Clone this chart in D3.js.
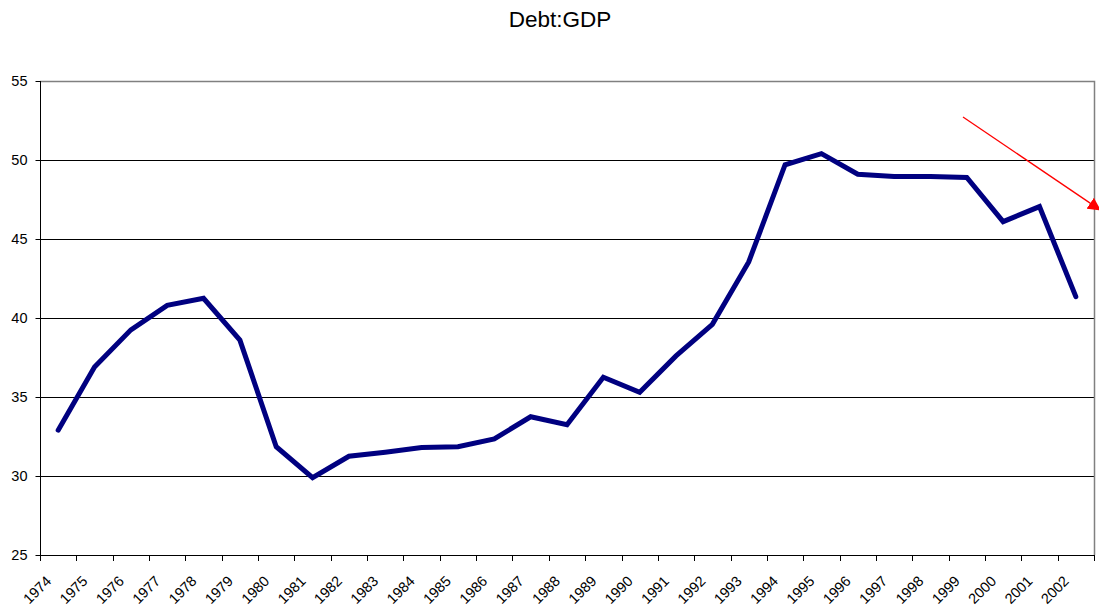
<!DOCTYPE html>
<html>
<head>
<meta charset="utf-8">
<script src="https://cdn.jsdelivr.net/npm/d3@7"></script>
<style>
  html, body { margin: 0; padding: 0; background: #fff; }
  svg { display: block; font-family: "Liberation Sans", Arial, sans-serif; }
</style>
</head>
<body>
<svg id="chart" width="1099" height="610"></svg>
<script>
const years = ["1974","1975","1976","1977","1978","1979","1980","1981","1982","1983","1984","1985","1986","1987","1988","1989","1990","1991","1992","1993","1994","1995","1996","1997","1998","1999","2000","2001","2002"];
const debtGdp = [32.9,36.9,39.25,40.8,41.25,38.6,31.85,29.9,31.25,31.5,31.8,31.85,32.35,33.75,33.25,36.25,35.3,37.6,39.6,43.55,49.7,50.4,49.1,48.95,48.95,48.9,46.1,47.05,41.35];
const yTicks = [25,30,35,40,45,50,55];
const title = "Debt:GDP";

(function () {
const svg = d3.select("#chart");
const pLeft = 40, pRight = 1094, pTop = 81, pBottom = 555;

const x = d3.scaleBand().domain(years).range([pLeft, pRight]).paddingInner(0).paddingOuter(0);
const y = d3.scaleLinear().domain([25, 55]).range([pBottom, pTop]);

// title
svg.append("text")
  .attr("x", 560).attr("y", 27)
  .attr("text-anchor", "middle")
  .attr("font-size", 22.5)
  .attr("fill", "#000")
  .text(title);

// gridlines
svg.append("g").selectAll("line")
  .data(yTicks.filter(d => d > 25 && d < 55))
  .join("line")
  .attr("x1", pLeft).attr("x2", pRight)
  .attr("y1", d => Math.round(y(d)) + 0.5).attr("y2", d => Math.round(y(d)) + 0.5)
  .attr("stroke", "#000").attr("stroke-width", 1);

// plot border (top & right gray)
svg.append("path")
  .attr("d", `M${pLeft},${pTop + 0.5}H${pRight + 0.5}V${pBottom}`)
  .attr("fill", "none").attr("stroke", "#808080").attr("stroke-width", 1.5);

// y axis
const yAxis = d3.axisLeft(y).tickValues(yTicks).tickSize(5).tickPadding(8).tickFormat(d3.format("d"));
const gy = svg.append("g").attr("transform", `translate(${pLeft + 0.5},0)`).call(yAxis);
gy.select(".domain").attr("stroke", "#000").attr("d", `M0,${pTop}V${pBottom + 0.5}`);
gy.selectAll(".tick line").attr("stroke", "#000");
gy.selectAll("text").attr("font-size", 14.5).attr("fill", "#000").style("font-family", "Liberation Sans, Arial, sans-serif");

// x axis: ticks at band boundaries
const boundaries = years.map(d => x(d)).concat([pRight]);
const gx = svg.append("g");
gx.append("line")
  .attr("x1", pLeft).attr("x2", pRight + 0.5)
  .attr("y1", pBottom + 0.5).attr("y2", pBottom + 0.5)
  .attr("stroke", "#000").attr("stroke-width", 1);
gx.selectAll("line.tick")
  .data(boundaries)
  .join("line").attr("class", "tick")
  .attr("x1", d => Math.round(d) + 0.5).attr("x2", d => Math.round(d) + 0.5)
  .attr("y1", pBottom).attr("y2", pBottom + 6)
  .attr("stroke", "#000");
gx.selectAll("text")
  .data(years)
  .join("text")
  .attr("transform", d => `translate(${x(d) + x.bandwidth() / 2 - 6},${582}) rotate(-45)`)
  .attr("text-anchor", "end")
  .attr("font-size", 14.5)
  .attr("fill", "#000")
  .text(d => d);

// line
const line = d3.line()
  .x((d, i) => x(years[i]) + x.bandwidth() / 2)
  .y(d => y(d));
svg.append("path")
  .datum(debtGdp)
  .attr("d", line)
  .attr("fill", "none")
  .attr("stroke", "#000080")
  .attr("stroke-width", 5)
  .attr("stroke-linejoin", "miter")
  .attr("stroke-linecap", "round");

// red arrow annotation
const defs = svg.append("defs");
defs.append("marker")
  .attr("id", "arrowhead")
  .attr("viewBox", "0 0 10 10")
  .attr("refX", 10).attr("refY", 5)
  .attr("markerUnits", "userSpaceOnUse")
  .attr("markerWidth", 13).attr("markerHeight", 14)
  .attr("orient", "auto")
  .append("path")
  .attr("d", "M0,0L10,5L0,10Z")
  .attr("fill", "#ff0000");
svg.append("line")
  .attr("x1", 963).attr("y1", 117)
  .attr("x2", 1101).attr("y2", 210.5)
  .attr("stroke", "#ff0000")
  .attr("stroke-width", 1.3)
  .attr("marker-end", "url(#arrowhead)");
})();
</script>
</body>
</html>
